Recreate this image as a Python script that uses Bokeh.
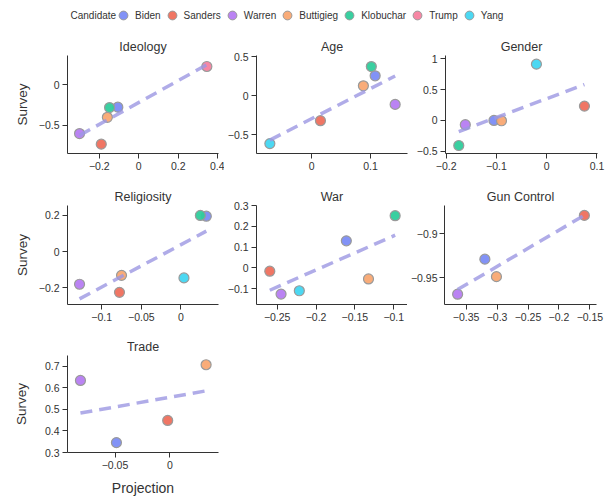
import numpy as np
from bokeh.plotting import figure
from bokeh.models import (Range1d, FixedTicker, CustomJSTickFormatter, Legend,
                          LegendItem, Label, ColumnDataSource)
from bokeh.layouts import column, row
from bokeh.embed import file_html
from bokeh.resources import INLINE

FONT = "Liberation Sans"

candidates = ["Biden", "Sanders", "Warren", "Buttigieg", "Klobuchar", "Trump", "Yang"]
palette = ["#7b8cf5", "#ef6f5c", "#b67cf2", "#f9a872", "#2fcc9b", "#f7819f", "#42d6f1"]
color_of = dict(zip(candidates, palette))

# ---- data (projection = x, survey = y) ----
ideology_cand = ["Biden", "Sanders", "Warren", "Buttigieg", "Klobuchar", "Trump"]
ideology_x = [-0.106, -0.190, -0.300, -0.159, -0.148, 0.345]
ideology_y = [-0.275, -0.730, -0.600, -0.400, -0.280, 0.225]

age_cand = ["Biden", "Sanders", "Warren", "Buttigieg", "Klobuchar", "Yang"]
age_x = [0.108, 0.015, 0.142, 0.088, 0.1015, -0.071]
age_y = [0.254, -0.318, -0.110, 0.127, 0.372, -0.610]

gender_cand = ["Biden", "Sanders", "Warren", "Buttigieg", "Klobuchar", "Yang"]
gender_x = [-0.105, 0.075, -0.162, -0.090, -0.175, -0.0205]
gender_y = [0.000, 0.232, -0.068, -0.005, -0.405, 0.910]

relig_cand = ["Biden", "Sanders", "Warren", "Buttigieg", "Klobuchar", "Yang"]
relig_x = [0.032, -0.0776, -0.128, -0.075, 0.0245, 0.0038]
relig_y = [0.196, -0.225, -0.180, -0.131, 0.200, -0.145]

war_cand = ["Biden", "Sanders", "Warren", "Buttigieg", "Klobuchar", "Yang"]
war_x = [-0.161, -0.2595, -0.245, -0.1325, -0.0982, -0.2215]
war_y = [0.130, -0.016, -0.126, -0.053, 0.251, -0.110]

gun_cand = ["Biden", "Sanders", "Warren", "Buttigieg"]
gun_x = [-0.3197, -0.159, -0.3637, -0.301]
gun_y = [-0.929, -0.879, -0.969, -0.949]

trade_cand = ["Biden", "Sanders", "Warren", "Buttigieg"]
trade_x = [-0.0487, -0.002, -0.0815, 0.033]
trade_y = [0.346, 0.449, 0.635, 0.708]

# tick values per panel
ideology_xt, ideology_yt = [-0.2, 0, 0.2, 0.4], [-0.5, 0]
age_xt, age_yt = [0, 0.1], [-0.5, 0, 0.5]
gender_xt, gender_yt = [-0.2, -0.1, 0, 0.1], [-0.5, 0, 0.5, 1]
relig_xt, relig_yt = [-0.1, -0.05, 0], [-0.2, 0, 0.2]
war_xt, war_yt = [-0.25, -0.2, -0.15, -0.1], [-0.1, 0, 0.1, 0.2, 0.3]
gun_xt, gun_yt = [-0.35, -0.3, -0.25, -0.2, -0.15], [-0.95, -0.9]
trade_xt, trade_yt = [-0.05, 0], [0.3, 0.4, 0.5, 0.6, 0.7]

FMT_CODE = "const v = Math.round(tick*1000)/1000; return v.toString().replace('-', '\\u2212');"


def make_panel(title, cands, xs, ys, xr, yr, xt, yt, fw, fh,
               left, right, top, bottom, ylabel=None, xlabel=None,
               ylabel_standoff=6, ylab_standoff=3):
    p = figure(frame_width=fw, frame_height=fh, x_range=Range1d(*xr),
               y_range=Range1d(*yr), output_backend="svg", toolbar_location=None,
               min_border_left=left, min_border_right=right,
               min_border_top=top, min_border_bottom=bottom,
               background_fill_color="white", border_fill_color="white")
    p.outline_line_color = None
    p.grid.visible = False
    p.title.text = title
    p.title.align = "center"
    p.title.text_font = FONT
    p.title.text_font_size = "12.5px"
    p.title.text_font_style = "normal"
    p.title.text_color = "#333333"
    p.title.standoff = 3
    for ax, ticks in ((p.xaxis, xt), (p.yaxis, yt)):
        ax.ticker = FixedTicker(ticks=ticks)
        ax.formatter = CustomJSTickFormatter(code=FMT_CODE)
        ax.axis_line_color = "#333333"
        ax.major_tick_line_color = "#333333"
        ax.major_tick_out = 5
        ax.major_tick_in = 0
        ax.minor_tick_line_color = None
        ax.major_label_standoff = 3
        ax.major_label_text_font = FONT
        ax.major_label_text_font_size = "10.5px"
        ax.major_label_text_color = "#333333"
        ax.axis_label_text_font = FONT
        ax.axis_label_text_font_style = "normal"
        ax.axis_label_text_color = "#333333"
    p.yaxis.major_label_standoff = ylab_standoff
    if ylabel:
        p.yaxis.axis_label = ylabel
        p.yaxis.axis_label_text_font_size = "13.5px"
        p.yaxis.axis_label_standoff = ylabel_standoff
    if xlabel:
        p.xaxis.axis_label = xlabel
        p.xaxis.axis_label_text_font_size = "14px"
        p.xaxis.axis_label_standoff = 8
    src = ColumnDataSource(dict(x=xs, y=ys, c=[color_of[c] for c in cands]))
    p.scatter("x", "y", source=src, size=10, fill_color="c", fill_alpha=0.95,
              line_color="#9a9a9a", line_width=1.2)
    slope, icpt = np.polyfit(np.array(xs), np.array(ys), 1)
    x0, x1 = min(xs), max(xs)
    p.line([x0, x1], [icpt + slope * x0, icpt + slope * x1], line_color="#9c97e2",
           line_alpha=0.8, line_width=3.5, line_dash="12 7")
    return p


FW1, FW2, FW3 = 151, 151, 152
L1 = 67  # includes the 8px page offset

p1 = make_panel("Ideology", ideology_cand, ideology_x, ideology_y, (-0.361, 0.404), (-0.845, 0.36),
                ideology_xt, ideology_yt, FW1, 98, L1, 6, 23, 27, ylabel="Survey", ylabel_standoff=6)
p2 = make_panel("Age", age_cand, age_x, age_y, (-0.0937, 0.163), (-0.736, 0.513),
                age_xt, age_yt, FW2, 98, 31, 2, 23, 27)
p3 = make_panel("Gender", gender_cand, gender_x, gender_y, (-0.2014, 0.101), (-0.534, 1.05),
                gender_xt, gender_yt, FW3, 98, 36, 10, 23, 27)

p4 = make_panel("Religiosity", relig_cand, relig_x, relig_y, (-0.1432, 0.0474), (-0.292, 0.255),
                relig_xt, relig_yt, FW1, 99, L1, 6, 25, 25, ylabel="Survey", ylabel_standoff=6)
p5 = make_panel("War", war_cand, war_x, war_y, (-0.2766, -0.0823), (-0.176, 0.3),
                war_xt, war_yt, FW2, 99, 31, 0, 25, 25)
p6 = make_panel("Gun Control", gun_cand, gun_x, gun_y, (-0.3849, -0.1394), (-0.9808, -0.8677),
                gun_xt, gun_yt, FW3, 99, 34, 10, 25, 25, ylab_standoff=2)

p7 = make_panel("Trade", trade_cand, trade_x, trade_y, (-0.0933, 0.0443), (0.3, 0.751),
                trade_xt, trade_yt, FW1, 97, L1, 6, 26, 36, ylabel="Survey",
                xlabel="Projection", ylabel_standoff=13)

# ---- legend strip ----
LW, LH = 600, 32
lg = figure(width=LW, height=LH, x_range=Range1d(0, LW), y_range=Range1d(0, LH),
            output_backend="svg", toolbar_location=None, min_border=0)
lg.axis.visible = False
lg.grid.visible = False
lg.outline_line_color = None
items = []
for name, col in zip(candidates, palette):
    r = lg.scatter(x=[np.nan], y=[np.nan], size=9, fill_color=col, fill_alpha=0.95,
                   line_color="#9a9a9a", line_width=1.0)
    items.append(LegendItem(label=name, renderers=[r]))
legend = Legend(items=items, orientation="horizontal", location=(112, 6),
                padding=0, margin=0, spacing=0, label_standoff=1,
                glyph_width=22, glyph_height=22,
                border_line_color=None, background_fill_alpha=0,
                label_text_font=FONT, label_text_font_size="10px",
                label_text_color="#333333", label_height=12)
lg.add_layout(legend)
lg.add_layout(Label(x=70, y=17, text="Candidate", text_font=FONT, text_font_size="10px",
                    text_color="#333333", text_baseline="middle", text_align="left"))

layout = column(lg, row(p1, p2, p3), row(p4, p5, p6), row(p7))

open("out.html", "w").write(file_html(layout, INLINE))
